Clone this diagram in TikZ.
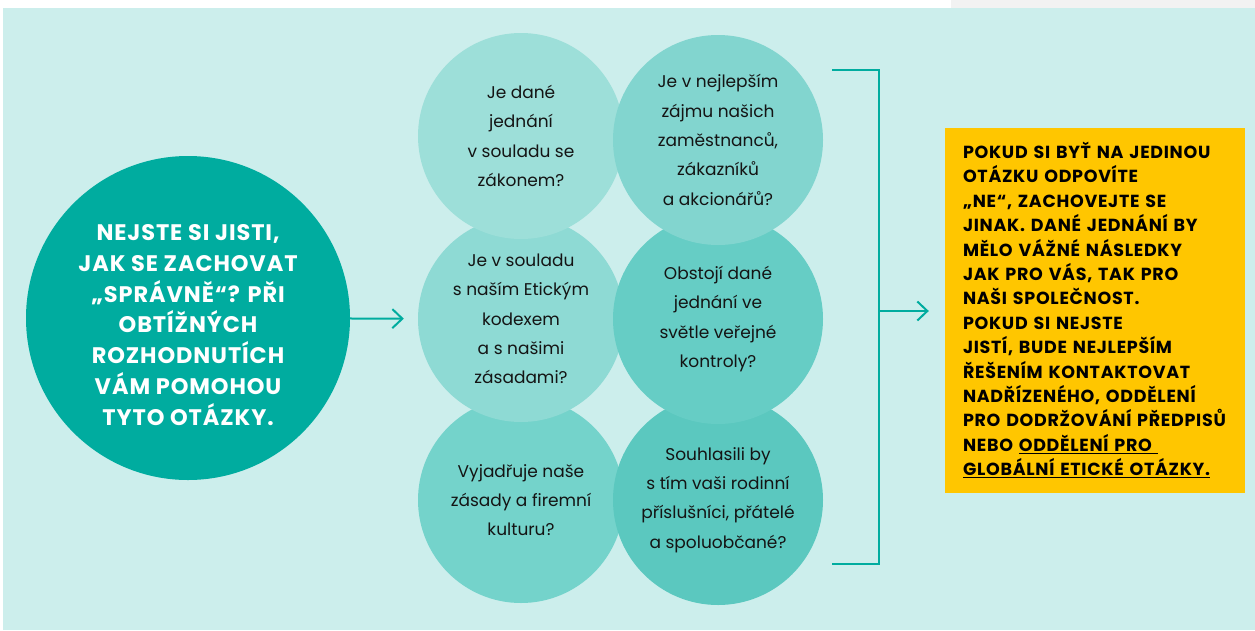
\documentclass[tikz,border=0pt]{standalone}
\usepackage{fontspec}
\setmainfont{Poppins}
\newfontfamily\sirsi[LetterSpace=4]{Poppins}
\usetikzlibrary{positioning,arrows.meta}
\definecolor{pozadi}{HTML}{CCEEEC}
\definecolor{seda}{HTML}{F2F2F2}
\definecolor{tyrkys}{HTML}{00AC9F}
\definecolor{kruhA}{HTML}{9DDFD9}
\definecolor{kruhB}{HTML}{82D5CF}
\definecolor{kruhC}{HTML}{8EDAD4}
\definecolor{kruhD}{HTML}{66CDC5}
\definecolor{kruhE}{HTML}{74D3CB}
\definecolor{kruhF}{HTML}{5BC8BF}
\definecolor{zluta}{HTML}{FFC600}
\tikzset{
	uvod/.style={circle, fill=tyrkys, text=white, minimum size=324pt,
		inner sep=0pt, align=center, font=\sirsi\fontsize{22.5}{30.7}\selectfont\bfseries},
	otazka/.style={circle, minimum size=206pt, inner sep=0pt,
		text=black!92, align=center, font=\fontsize{17}{29.3}\selectfont},
	rada/.style={rectangle, fill=zluta, text=black, minimum width=300pt,
		minimum height=365pt, text width=264pt, inner sep=0pt, align=left,
		font=\sirsi\fontsize{17.5}{24.4}\selectfont\bfseries},
	zavorka/.style={draw=tyrkys, line width=2.5pt},
	sipka/.style={draw=tyrkys, line width=2pt,
		-{Straight Barb[length=10pt, width=19pt, line width=2pt]}}
}
\begin{document}
\begin{tikzpicture}[x=1pt, y=-1pt]
	\useasboundingbox (0,0) rectangle (1255,630);
	\fill[seda] (951,0) rectangle (1255,8);
	\fill[pozadi] (3,8) rectangle (1255,630);
	
	\node[uvod] (uvod) at (188,318) {\rule{0pt}{30pt}NEJSTE SI JISTI,\\JAK SE ZACHOVAT\\„SPRÁVNĚ“? PŘI\\OBTÍŽNÝCH\\ROZHODNUTÍCH\\VÁM POMOHOU\\TYTO OTÁZKY.};
	
	% otazky -- odspodu nahoru, at se prekryvaji spravne
	\node[otazka, fill=kruhE] (q5) at (521,500) {Vyjadřuje naše\\zásady a firemní\\kulturu?};
	\node[otazka, fill=kruhF, minimum size=210pt] (q6) at (718,500) {Souhlasili by\\s tím vaši rodinní\\příslušníci, přátelé\\a spoluobčané?};
	\node[otazka, fill=kruhC] (q3) at (521,319) {Je v souladu\\s naším Etickým\\kodexem\\a s našimi\\zásadami?};
	\node[otazka, fill=kruhD, minimum size=210pt] (q4) at (718,319) {Obstojí dané\\jednání ve\\světle veřejné\\kontroly?};
	\node[otazka, fill=kruhA] (q1) at (521,136) {Je dané\\jednání\\v souladu se\\zákonem?};
	\node[otazka, fill=kruhB, minimum size=210pt] (q2) at (718,140) {Je v nejlepším\\zájmu našich\\zaměstnanců,\\zákazníků\\a akcionářů?};
	
	\node[rada] (rada) at (1095,310) {POKUD SI BYŤ NA JEDINOU\\OTÁZKU ODPOVÍTE\\„NE“, ZACHOVEJTE SE\\JINAK. DANÉ JEDNÁNÍ BY\\MĚLO VÁŽNÉ NÁSLEDKY\\JAK PRO VÁS, TAK PRO\\NAŠI SPOLEČNOST.\\POKUD SI NEJSTE\\JISTÍ, BUDE NEJLEPŠÍM\\ŘEŠENÍM KONTAKTOVAT\\NADŘÍZENÉHO, ODDĚLENÍ\\PRO DODRŽOVÁNÍ PŘEDPISŮ\\NEBO \underline{ODDĚLENÍ PRO\ }\\\underline{GLOBÁLNÍ ETICKÉ OTÁZKY.}};
	
	% zavorka
	\coordinate (zh) at (832,70);
	\coordinate (zd) at (832,564);
	\coordinate (zs) at (879,311);
	\draw[zavorka] (zh) -| (zs) |- (zd);
	
	\draw[sipka, shorten >=14pt] (uvod) -- (q3);
	\draw[sipka, shorten >=16pt] (zs) -- (zs -| rada.west);
\end{tikzpicture}
\end{document}
